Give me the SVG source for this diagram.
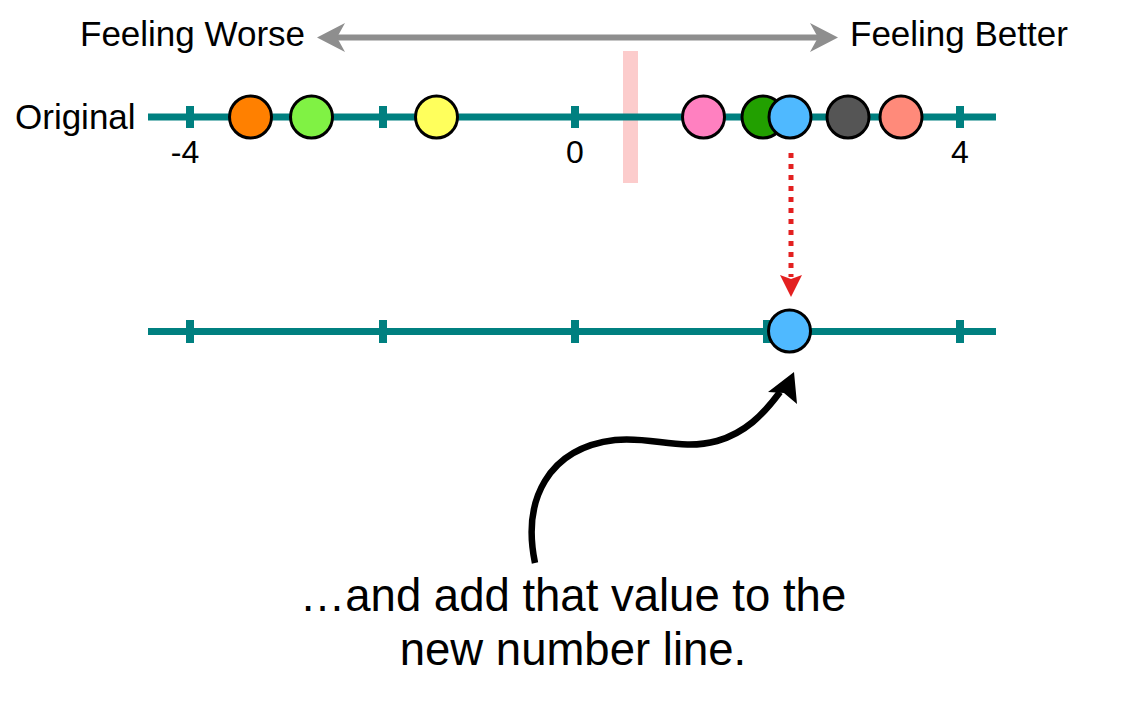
<svg xmlns="http://www.w3.org/2000/svg" width="1138" height="710" viewBox="0 0 1138 710">
<defs>
<style>
.lbl{font-family:"Liberation Sans",Arial,Helvetica,sans-serif;fill:#000}
.axis{stroke:#008080;stroke-width:7;fill:none}
.tick{stroke:#008080;stroke-width:8}
.dot{stroke:#000;stroke-width:3}
</style>
</defs>
<rect width="1138" height="710" fill="#fff"/>

<g id="band">
<rect x="623" y="51" width="15" height="132" fill="#fccccc"/>
</g>

<g id="original-line">
<line class="axis" x1="148" y1="117" x2="996" y2="117"/>
<line class="tick" x1="190" y1="106" x2="190" y2="128"/>
<line class="tick" x1="383" y1="106" x2="383" y2="128"/>
<line class="tick" x1="575" y1="106" x2="575" y2="128"/>
<line class="tick" x1="767" y1="106" x2="767" y2="128"/>
<line class="tick" x1="960" y1="106" x2="960" y2="128"/>
<text class="lbl" x="15" y="129" font-size="35">Original</text>
<text class="lbl" x="185" y="163" font-size="32" text-anchor="middle">-4</text>
<text class="lbl" x="575" y="163" font-size="32" text-anchor="middle">0</text>
<text class="lbl" x="960" y="163" font-size="32" text-anchor="middle">4</text>
</g>

<g id="new-line">
<line class="axis" x1="148" y1="331.5" x2="996" y2="331.5"/>
<line class="tick" x1="190" y1="320" x2="190" y2="343"/>
<line class="tick" x1="383" y1="320" x2="383" y2="343"/>
<line class="tick" x1="575" y1="320" x2="575" y2="343"/>
<line class="tick" x1="767" y1="320" x2="767" y2="343"/>
<line class="tick" x1="960" y1="320" x2="960" y2="343"/>
</g>

<g id="dot-orange"><circle class="dot" cx="250.5" cy="117" r="21" fill="#ff8000"/></g>
<g id="dot-lightgreen"><circle class="dot" cx="311.5" cy="117" r="21" fill="#80f244"/></g>
<g id="dot-yellow"><circle class="dot" cx="436.5" cy="117" r="21" fill="#ffff5c"/></g>
<g id="dot-pink"><circle class="dot" cx="703.5" cy="117" r="21" fill="#ff80c0"/></g>
<g id="dot-darkgreen"><circle class="dot" cx="763" cy="117" r="21" fill="#22a000"/></g>
<g id="dot-blue"><circle class="dot" cx="790" cy="117" r="21" fill="#4fb9ff"/></g>
<g id="dot-darkgray"><circle class="dot" cx="848" cy="117" r="21" fill="#555555"/></g>
<g id="dot-salmon"><circle class="dot" cx="901" cy="117" r="21" fill="#ff8a7a"/></g>
<g id="dot-blue-new"><circle class="dot" cx="789.5" cy="331" r="21" fill="#4fb9ff"/></g>

<g id="feeling-labels">
<text class="lbl" x="80" y="46" font-size="35">Feeling Worse</text>
<text class="lbl" x="850" y="46" font-size="35">Feeling Better</text>
</g>

<g id="caption">
<text class="lbl" x="573" y="611" font-size="45.5" text-anchor="middle">…and add that value to the</text>
<text class="lbl" x="573" y="665" font-size="45.5" text-anchor="middle">new number line.</text>
</g>

<g id="connectors">
<line x1="335" y1="37.5" x2="820" y2="37.5" stroke="#8e8e8e" stroke-width="6"/>
<polygon points="317,37.5 345,23 337,37.5 345,52" fill="#8e8e8e"/>
<polygon points="838,37.5 810,23 818,37.5 810,52" fill="#8e8e8e"/>
<line x1="791" y1="153" x2="791" y2="277" stroke="#e32020" stroke-width="5" stroke-dasharray="5 6"/>
<polygon points="780,275 791,279 802,275 791,297" fill="#e32020"/>
<path d="M535 563 C522 500 548 448 615 440 C652 436 680 451 717 441 C745 433 763 415 780 392" fill="none" stroke="#000" stroke-width="6.5"/>
<polygon points="794,372 797,404 784,393 768,392" fill="#000"/>
</g>
</svg>
